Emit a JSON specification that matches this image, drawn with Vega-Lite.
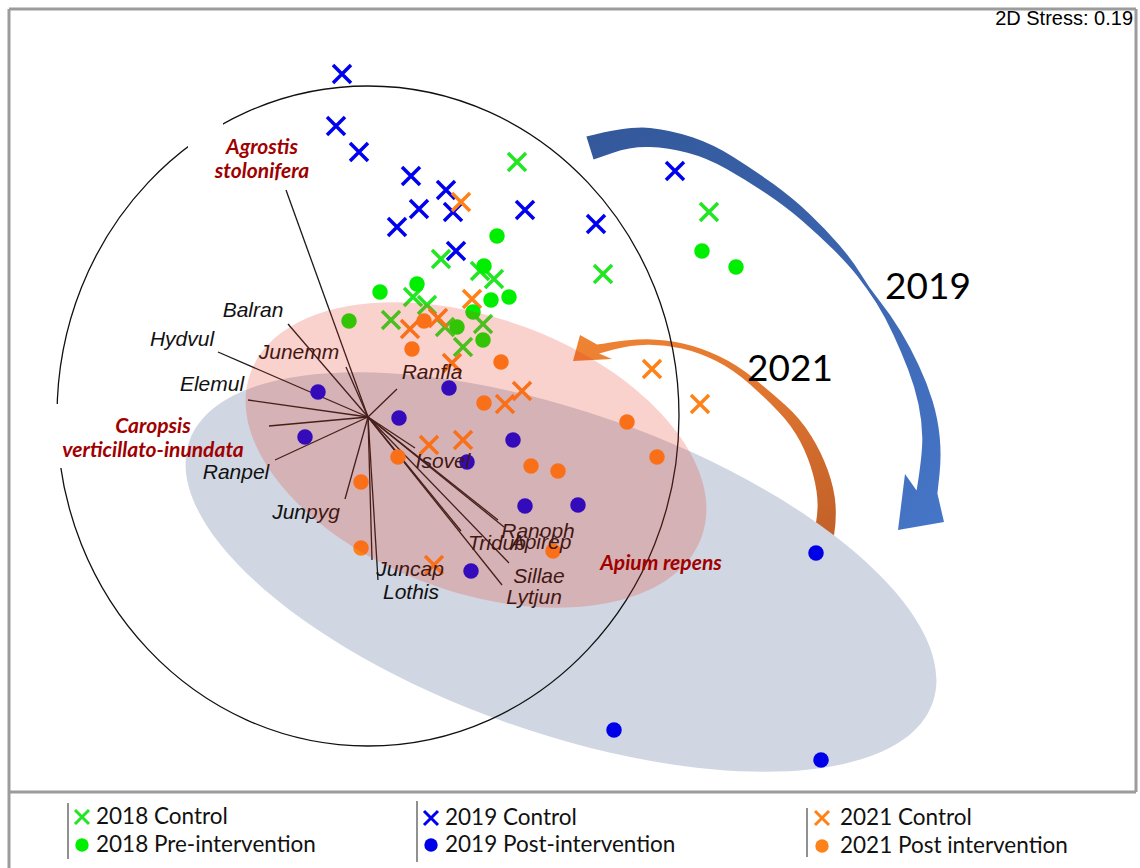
{
  "$schema": "https://vega.github.io/schema/vega-lite/v6.json",
  "width": 1140,
  "height": 868,
  "padding": 0,
  "autosize": {"type": "none"},
  "background": "white",
  "config": {"view": {"stroke": null}},
  "datasets": {
    "points": [
      {"g": "2019 Control", "x": 342, "y": 74}, {"g": "2019 Control", "x": 336, "y": 126}, {"g": "2019 Control", "x": 359, "y": 152},
      {"g": "2019 Control", "x": 411, "y": 176}, {"g": "2019 Control", "x": 446, "y": 190}, {"g": "2019 Control", "x": 419, "y": 209},
      {"g": "2019 Control", "x": 453, "y": 212}, {"g": "2019 Control", "x": 397, "y": 227}, {"g": "2019 Control", "x": 525, "y": 210},
      {"g": "2019 Control", "x": 596, "y": 224}, {"g": "2019 Control", "x": 675, "y": 171}, {"g": "2019 Control", "x": 456, "y": 251},
      {"g": "2018 Control", "x": 517, "y": 162}, {"g": "2018 Control", "x": 709, "y": 212}, {"g": "2018 Control", "x": 603, "y": 274},
      {"g": "2018 Control", "x": 441, "y": 259}, {"g": "2018 Control", "x": 480, "y": 271}, {"g": "2018 Control", "x": 494, "y": 279},
      {"g": "2018 Control", "x": 413, "y": 297}, {"g": "2018 Control", "x": 427, "y": 305}, {"g": "2018 Control", "x": 391, "y": 320},
      {"g": "2018 Control", "x": 445, "y": 327}, {"g": "2018 Control", "x": 483, "y": 324}, {"g": "2018 Control", "x": 463, "y": 347},
      {"g": "2021 Control", "x": 461, "y": 202}, {"g": "2021 Control", "x": 472, "y": 299}, {"g": "2021 Control", "x": 438, "y": 318},
      {"g": "2021 Control", "x": 410, "y": 329}, {"g": "2021 Control", "x": 452, "y": 363}, {"g": "2021 Control", "x": 652, "y": 369},
      {"g": "2021 Control", "x": 700, "y": 404}, {"g": "2021 Control", "x": 522, "y": 391}, {"g": "2021 Control", "x": 505, "y": 404},
      {"g": "2021 Control", "x": 429, "y": 445}, {"g": "2021 Control", "x": 463, "y": 440}, {"g": "2021 Control", "x": 434, "y": 565},
      {"g": "2018 Pre-intervention", "x": 497, "y": 236}, {"g": "2018 Pre-intervention", "x": 702, "y": 251}, {"g": "2018 Pre-intervention", "x": 736, "y": 267},
      {"g": "2018 Pre-intervention", "x": 484, "y": 266}, {"g": "2018 Pre-intervention", "x": 417, "y": 284}, {"g": "2018 Pre-intervention", "x": 380, "y": 292},
      {"g": "2018 Pre-intervention", "x": 491, "y": 300}, {"g": "2018 Pre-intervention", "x": 509, "y": 297}, {"g": "2018 Pre-intervention", "x": 473, "y": 312},
      {"g": "2018 Pre-intervention", "x": 349, "y": 321}, {"g": "2018 Pre-intervention", "x": 457, "y": 327}, {"g": "2018 Pre-intervention", "x": 483, "y": 340},
      {"g": "2019 Post-intervention", "x": 318, "y": 392}, {"g": "2019 Post-intervention", "x": 305, "y": 437}, {"g": "2019 Post-intervention", "x": 399, "y": 418},
      {"g": "2019 Post-intervention", "x": 449, "y": 388}, {"g": "2019 Post-intervention", "x": 513, "y": 440}, {"g": "2019 Post-intervention", "x": 467, "y": 462},
      {"g": "2019 Post-intervention", "x": 525, "y": 506}, {"g": "2019 Post-intervention", "x": 578, "y": 505}, {"g": "2019 Post-intervention", "x": 471, "y": 571},
      {"g": "2019 Post-intervention", "x": 816, "y": 553}, {"g": "2019 Post-intervention", "x": 614, "y": 730}, {"g": "2019 Post-intervention", "x": 821, "y": 760},
      {"g": "2021 Post intervention", "x": 424, "y": 321}, {"g": "2021 Post intervention", "x": 412, "y": 349}, {"g": "2021 Post intervention", "x": 501, "y": 362},
      {"g": "2021 Post intervention", "x": 484, "y": 403}, {"g": "2021 Post intervention", "x": 627, "y": 422}, {"g": "2021 Post intervention", "x": 657, "y": 457},
      {"g": "2021 Post intervention", "x": 531, "y": 466}, {"g": "2021 Post intervention", "x": 558, "y": 471}, {"g": "2021 Post intervention", "x": 398, "y": 457},
      {"g": "2021 Post intervention", "x": 361, "y": 482}, {"g": "2021 Post intervention", "x": 361, "y": 548}, {"g": "2021 Post intervention", "x": 553, "y": 551}
    ],
    "vectors": [
      {"sp": "Agrostis stolonifera", "x": 368, "y": 417, "x2": 286, "y2": 190},
      {"sp": "Balran", "x": 368, "y": 417, "x2": 288, "y2": 324},
      {"sp": "Hydvul", "x": 368, "y": 417, "x2": 218, "y2": 352},
      {"sp": "Junemm", "x": 368, "y": 417, "x2": 346, "y2": 367},
      {"sp": "Elemul", "x": 368, "y": 417, "x2": 248, "y2": 400},
      {"sp": "Caropsis verticillato-inundata", "x": 368, "y": 417, "x2": 269, "y2": 426},
      {"sp": "Ranpel", "x": 368, "y": 417, "x2": 275, "y2": 460},
      {"sp": "Junpyg", "x": 368, "y": 417, "x2": 345, "y2": 499},
      {"sp": "Lothis", "x": 368, "y": 417, "x2": 372, "y2": 560},
      {"sp": "Juncap", "x": 368, "y": 417, "x2": 378, "y2": 580},
      {"sp": "Ranfla", "x": 368, "y": 417, "x2": 397, "y2": 389},
      {"sp": "Isovel", "x": 368, "y": 417, "x2": 415, "y2": 448},
      {"sp": "Ranoph", "x": 368, "y": 417, "x2": 498, "y2": 520},
      {"sp": "Apirep", "x": 368, "y": 417, "x2": 504, "y2": 527},
      {"sp": "Tridub", "x": 368, "y": 417, "x2": 461, "y2": 531},
      {"sp": "Sillae", "x": 368, "y": 417, "x2": 509, "y2": 563},
      {"sp": "Lytjun", "x": 368, "y": 417, "x2": 502, "y2": 585}
    ],
    "species": [
      {"t": "Balran", "x": 253, "y": 311}, {"t": "Hydvul", "x": 182, "y": 340}, {"t": "Junemm", "x": 299, "y": 353},
      {"t": "Elemul", "x": 212, "y": 385}, {"t": "Ranpel", "x": 236, "y": 473}, {"t": "Junpyg", "x": 306, "y": 513},
      {"t": "Ranfla", "x": 432, "y": 373}, {"t": "Isovel", "x": 443, "y": 462}, {"t": "Ranoph", "x": 538, "y": 532},
      {"t": "Apirep", "x": 541, "y": 543}, {"t": "Tridub", "x": 497, "y": 544}, {"t": "Sillae", "x": 539, "y": 577},
      {"t": "Lytjun", "x": 534, "y": 598}, {"t": "Juncap", "x": 410, "y": 570}, {"t": "Lothis", "x": 411, "y": 593}
    ],
    "indicators": [
      {"t": "Agrostis", "x": 262, "y": 148}, {"t": "stolonifera", "x": 262, "y": 172},
      {"t": "Caropsis", "x": 153, "y": 427}, {"t": "verticillato-inundata", "x": 153, "y": 451},
      {"t": "Apium repens", "x": 661, "y": 564}
    ],
    "frame": [
      {"x": 9, "y": 9, "x2": 1136, "y2": 9}, {"x": 9, "y": 9, "x2": 9, "y2": 868},
      {"x": 1136, "y": 9, "x2": 1136, "y2": 792}, {"x": 9, "y": 792, "x2": 1136, "y2": 792}
    ],
    "separators": [
      {"x": 68, "y": 803, "x2": 68, "y2": 859}, {"x": 417, "y": 801, "x2": 417, "y2": 862}, {"x": 807, "y": 808, "x2": 807, "y2": 857}
    ],
    "legend": [
      {"g": "2018 Control", "mx": 82, "tx": 96, "y": 817}, {"g": "2018 Pre-intervention", "mx": 82, "tx": 96, "y": 845},
      {"g": "2019 Control", "mx": 431, "tx": 445, "y": 818}, {"g": "2019 Post-intervention", "mx": 431, "tx": 445, "y": 845},
      {"g": "2021 Control", "mx": 822, "tx": 840, "y": 818}, {"g": "2021 Post intervention", "mx": 822, "tx": 840, "y": 846}
    ]
  },
  "encoding": {
    "x": {"field": "x", "type": "quantitative", "scale": {"domain": [0, 1140], "nice": false, "zero": false}, "axis": null},
    "y": {"field": "y", "type": "quantitative", "scale": {"domain": [0, 868], "nice": false, "zero": false, "reverse": true}, "axis": null}
  },
  "layer": [
    {
      "data": {"name": "frame"},
      "mark": {"type": "rule", "stroke": "#9c9c9c", "strokeWidth": 3},
      "encoding": {"x2": {"field": "x2"}, "y2": {"field": "y2"}}
    },
    {
      "data": {"values": [{"name": "2019 shift", "x": 760, "y": 330}]},
      "mark": {"type": "point", "shape": "M-173.6,-193.4Q-131.2,-204.4 -109.8,-202.1Q-88.3,-199.8 -67.6,-192.8Q-46.8,-185.8 -26.7,-173.1Q-6.5,-160.4 13.5,-145.9Q33.4,-131.3 49.3,-116.3Q65.2,-101.2 78.8,-85.6Q92.3,-69.9 100.6,-56.3Q108.8,-42.6 119.7,-29.1Q130.5,-15.6 140.5,1.1Q150.5,17.8 158.8,35.4Q167.1,52.9 172.5,70.8Q177.9,88.6 179.7,107Q181.5,125.4 179.5,144.4L177.4,163.4L184,192L138,200L145,144L156.6,160.6Q162.5,124.6 162.3,108Q162.1,91.4 158.5,74.3Q154.9,57.1 148.2,39.7Q141.5,22.2 133.5,4.9Q125.5,-12.4 116.4,-26.9Q107.2,-41.4 97.5,-53.8Q87.7,-66.1 73.3,-80.5Q58.8,-94.8 42.7,-108.8Q26.6,-122.7 6.6,-136.2Q-13.5,-149.6 -33.4,-160.9Q-53.2,-172.2 -72.5,-177.2Q-91.7,-182.2 -110.3,-182.9Q-128.8,-183.6 -147.6,-177.1L-166.4,-170.6Z", "size": 4, "filled": true, "opacity": 1, "strokeWidth": 0,
        "fill": {"gradient": "linear", "x1": 0, "y1": 0, "x2": 1, "y2": 1, "stops": [{"offset": 0, "color": "#33589a"}, {"offset": 0.45, "color": "#3a62aa"}, {"offset": 1, "color": "#4676c8"}]}}
    },
    {
      "data": {"values": [{"name": "2021 shift", "x": 720, "y": 440}]},
      "mark": {"type": "point", "shape": "M-147,-79L-140,-105L-123,-95.4Q-90.3,-101 -72.5,-100.8Q-54.7,-100.5 -37,-96.5Q-19.2,-92.4 -1.3,-84Q16.7,-75.5 33.7,-61.8Q50.7,-48 65.5,-34.7Q80.3,-21.4 90.9,-4.6Q101.4,12.2 107.9,30.4Q114.4,48.5 115.5,64.6Q116.5,80.7 114.2,93.9L111.8,107L92.2,103Q97.5,79.3 97.6,65.4Q97.6,51.5 93.1,34.7Q88.6,17.8 80.2,1.6Q71.7,-14.6 58.5,-28.3Q45.3,-42 29.3,-56.3Q13.3,-70.5 -3.8,-79.1Q-20.8,-87.6 -38.1,-91.6Q-55.3,-95.5 -72.5,-95.3Q-89.7,-95 -105.4,-90.8L-121,-86.6L-108,-81Z", "size": 4, "filled": true, "opacity": 1, "strokeWidth": 0,
        "fill": {"gradient": "linear", "x1": 0, "y1": 0, "x2": 1, "y2": 1, "stops": [{"offset": 0, "color": "#f08434"}, {"offset": 0.5, "color": "#e07530"}, {"offset": 1, "color": "#bf5f28"}]}}
    },
    {
      "data": {"values": [{"name": "2019 Post-intervention ellipse", "x": 561, "y": 572}]},
      "mark": {"type": "point", "shape": "M394,0C394,88.4 217.6,160 0,160C-217.6,160 -394,88.4 -394,0C-394,-88.4 -217.6,-160 0,-160C217.6,-160 394,-88.4 394,0Z", "size": 4, "angle": 19.4, "filled": true, "fill": "#d0d6e2", "opacity": 1, "strokeWidth": 0}
    },
    {
      "data": {"values": [{"name": "2018 ellipse", "x": 368, "y": 416}]},
      "mark": {"type": "point", "shape": "M311,0C311,182.3 171.8,330 0,330C-171.8,330 -311,182.3 -311,0C-311,-182.3 -171.8,-330 0,-330C171.8,-330 311,-182.3 311,0Z", "size": 4, "filled": false, "stroke": "#111111", "strokeWidth": 1.3, "opacity": 1}
    },
    {
      "data": {"values": [{"x": 188, "x2": 223, "y": 118, "y2": 150}, {"x": 45, "x2": 75, "y": 404, "y2": 468}]},
      "mark": {"type": "rect", "fill": "white"},
      "encoding": {"x2": {"field": "x2"}, "y2": {"field": "y2"}}
    },
    {
      "data": {"name": "vectors"},
      "mark": {"type": "rule", "stroke": "#1a1a1a", "strokeWidth": 1.3},
      "encoding": {"x2": {"field": "x2"}, "y2": {"field": "y2"}}
    },
    {
      "data": {"name": "points"},
      "transform": [{"filter": {"field": "g", "oneOf": ["2018 Control", "2019 Control", "2021 Control"]}}],
      "mark": {"type": "point", "shape": "M-1,-1L1,1M-1,1L1,-1", "size": 324, "filled": false, "strokeWidth": 3.5, "opacity": 1},
      "encoding": {
        "color": {"field": "g", "type": "nominal", "legend": null,
          "scale": {"domain": ["2018 Control", "2018 Pre-intervention", "2019 Control", "2019 Post-intervention", "2021 Control", "2021 Post intervention"],
                    "range": ["#22e622", "#00ee00", "#0000f0", "#0000e8", "#ff8218", "#ff8218"]}}
      }
    },
    {
      "data": {"name": "points"},
      "transform": [{"filter": {"field": "g", "oneOf": ["2018 Pre-intervention", "2019 Post-intervention", "2021 Post intervention"]}}],
      "mark": {"type": "point", "shape": "circle", "size": 240, "filled": true, "strokeWidth": 0, "opacity": 1},
      "encoding": {"color": {"field": "g", "type": "nominal", "legend": null}}
    },
    {
      "data": {"name": "species"},
      "mark": {"type": "text", "font": "Liberation Sans", "fontStyle": "italic", "fontSize": 21, "color": "#111111", "align": "center", "baseline": "middle"},
      "encoding": {"text": {"field": "t"}}
    },
    {
      "data": {"values": [{"name": "2021 Post intervention ellipse", "x": 476, "y": 455}]},
      "mark": {"type": "point", "shape": "M240,0C240,75.7 132.6,137 0,137C-132.6,137 -240,75.7 -240,0C-240,-75.7 -132.6,-137 0,-137C132.6,-137 240,-75.7 240,0Z", "size": 4, "angle": 20, "filled": true, "fill": "#e8301a", "fillOpacity": 0.22, "opacity": 1, "strokeWidth": 0}
    },
    {
      "data": {"name": "indicators"},
      "mark": {"type": "text", "font": "Lato", "fontStyle": "italic", "fontWeight": "bold", "fontSize": 21, "color": "#a00000", "align": "center", "baseline": "middle"},
      "encoding": {"text": {"field": "t"}}
    },
    {
      "data": {"values": [{"t": "2019", "x": 928, "y": 288}, {"t": "2021", "x": 790, "y": 370}]},
      "mark": {"type": "text", "font": "Lato", "fontSize": 37, "color": "#000000", "align": "center", "baseline": "middle"},
      "encoding": {"text": {"field": "t"}}
    },
    {
      "data": {"values": [{"t": "2D Stress: 0.19", "x": 1133, "y": 19}]},
      "mark": {"type": "text", "font": "Liberation Sans", "fontSize": 20, "color": "#000000", "align": "right", "baseline": "middle"},
      "encoding": {"text": {"field": "t"}}
    },
    {
      "data": {"name": "separators"},
      "mark": {"type": "rule", "stroke": "#555555", "strokeWidth": 1.3},
      "encoding": {"x2": {"field": "x2"}, "y2": {"field": "y2"}}
    },
    {
      "data": {"name": "legend"},
      "transform": [{"filter": {"field": "g", "oneOf": ["2018 Control", "2019 Control", "2021 Control"]}}],
      "mark": {"type": "point", "shape": "M-1,-1L1,1M-1,1L1,-1", "size": 196, "filled": false, "strokeWidth": 3, "opacity": 1},
      "encoding": {"x": {"field": "mx", "type": "quantitative"}, "color": {"field": "g", "type": "nominal", "legend": null}}
    },
    {
      "data": {"name": "legend"},
      "transform": [{"filter": {"field": "g", "oneOf": ["2018 Pre-intervention", "2019 Post-intervention", "2021 Post intervention"]}}],
      "mark": {"type": "point", "shape": "circle", "size": 180, "filled": true, "strokeWidth": 0, "opacity": 1},
      "encoding": {"x": {"field": "mx", "type": "quantitative"}, "color": {"field": "g", "type": "nominal", "legend": null}}
    },
    {
      "data": {"name": "legend"},
      "mark": {"type": "text", "font": "Lato", "fontSize": 22.5, "color": "#111111", "align": "left", "baseline": "middle"},
      "encoding": {"x": {"field": "tx", "type": "quantitative"}, "text": {"field": "g"}}
    }
  ]
}
